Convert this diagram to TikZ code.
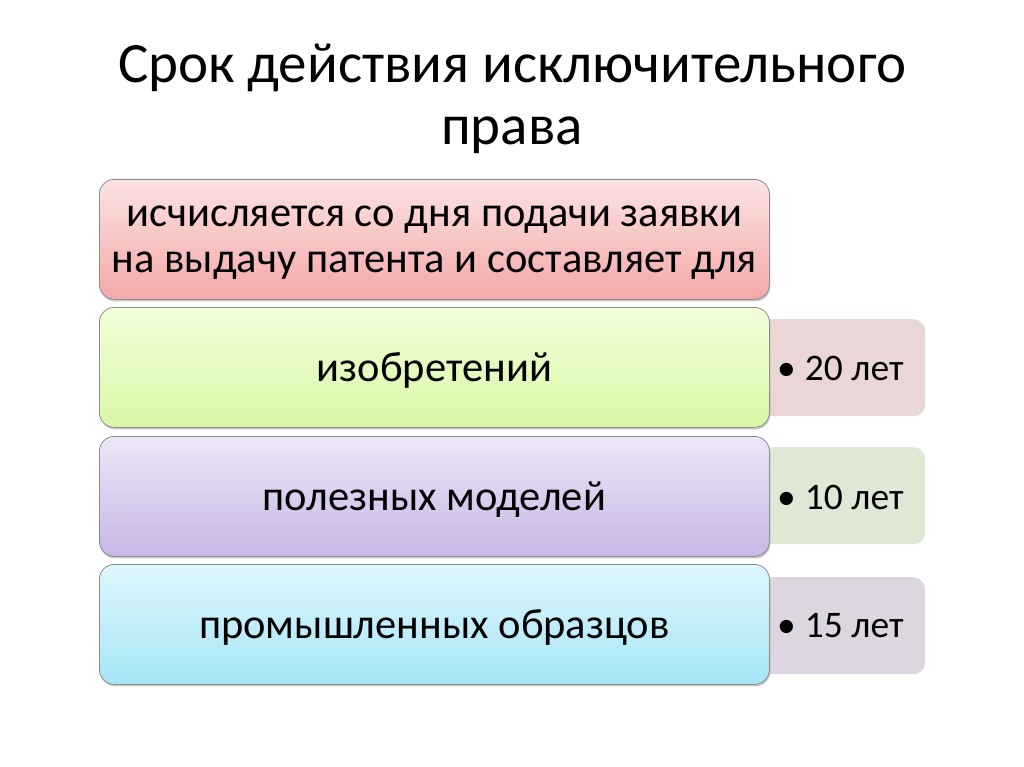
\documentclass[tikz,border=0pt]{standalone}
\usepackage{fontspec}
\setmainfont{Carlito}
\usetikzlibrary{shadows}
\begin{document}
\begin{tikzpicture}[x=1pt,y=-1pt,
  mainbox/.style={draw=black!45, line width=0.8pt, rounded corners=15pt, minimum width=670pt, minimum height=120pt, anchor=north west, inner sep=0pt,
    drop shadow={shadow xshift=1pt, shadow yshift=-2pt, opacity=0.35, fill=black!60}},
  maintext/.style={inner sep=0pt, font=\fontsize{42.5}{46}\selectfont, align=center, yshift=-3.5pt},
  sidebox/.style={rounded corners=12pt, minimum width=170pt, minimum height=97pt, anchor=north west, inner sep=0pt},
  sidetext/.style={anchor=west, inner sep=0pt, font=\fontsize{37.5}{40}\selectfont},
  ]
\useasboundingbox (0,0) rectangle (1024,767);
\fill[white] (0,0) rectangle (1024,767);
\node (title) at (512,99) [font=\fontsize{57}{62}\selectfont, align=center] {Срок действия исключительного\\права};
% side boxes
\node (s1) [sidebox, fill={rgb,255:red,233;green,215;blue,215}] at (755,319) {};
\node (s2) [sidebox, fill={rgb,255:red,222;green,232;blue,213}] at (755,447) {};
\node (s3) [sidebox, fill={rgb,255:red,220;green,214;blue,224}] at (755,577) {};
\node (t1) [sidetext] at (777,368) {•\hspace{9pt}20 лет};
\node (t2) [sidetext] at (777,497) {•\hspace{9pt}10 лет};
\node (t3) [sidetext] at (777,626) {•\hspace{9pt}15 лет};
% main boxes
\node (b1) [mainbox, top color={rgb,255:red,252;green,226;blue,226}, bottom color={rgb,255:red,244;green,168;blue,168}] at (99,179) {};
\node (b2) [mainbox, top color={rgb,255:red,242;green,255;blue,218}, bottom color={rgb,255:red,216;green,247;blue,166}] at (99,307) {};
\node (b3) [mainbox, top color={rgb,255:red,236;green,231;blue,246}, bottom color={rgb,255:red,200;green,182;blue,230}] at (99,436) {};
\node (b4) [mainbox, top color={rgb,255:red,222;green,246;blue,252}, bottom color={rgb,255:red,166;green,230;blue,246}] at (99,564) {};
\node (l1) [maintext] at (b1.center) {исчисляется со дня подачи заявки\\на выдачу патента и составляет для};
\node (l2) [maintext] at (b2.center) {изобретений};
\node (l3) [maintext] at (b3.center) {полезных моделей};
\node (l4) [maintext] at (b4.center) {промышленных образцов};
\end{tikzpicture}
\end{document}
